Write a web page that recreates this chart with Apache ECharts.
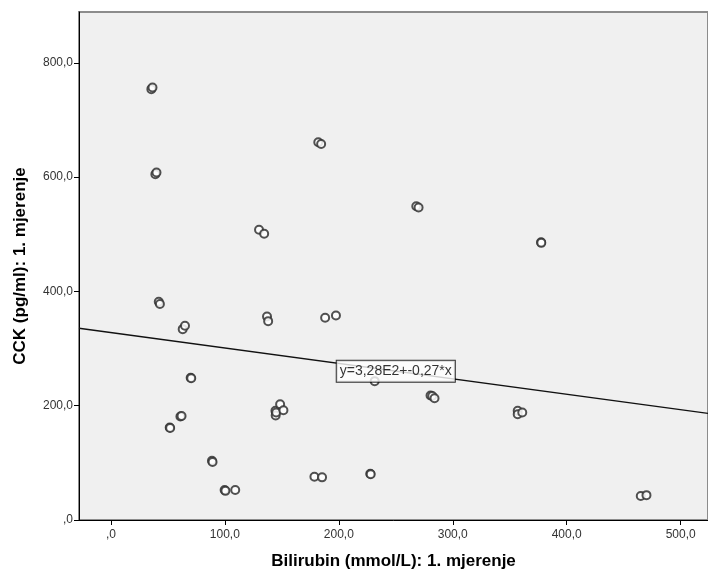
<!DOCTYPE html>
<html>
<head>
<meta charset="utf-8">
<script src="https://cdn.jsdelivr.net/npm/echarts@6/dist/echarts.min.js"></script>
<style>html,body{margin:0;padding:0;background:#fff;}#c{width:708px;height:575px;}</style>
</head>
<body>
<div id="c"></div>
<script>
// Bilirubin (x) values
var bilirubin = [35.5,36.5, 39,40, 42,43, 63,65, 61,62, 51.6,52, 70,70.5, 88.7,89.2, 99.8,100.5,109.1,
  130,134.5, 137,138, 144.4,144.6,145,148.5,151.4, 182,184.5, 188,197.5, 178.6,185.3, 227.6,228,
  231.5, 268,270, 280.5,282,284, 357,357,361, 377.5,377.7, 465,470];
// CCK (y) values
var cck = [754,757, 605,608, 382,378, 334,340, 181,182, 162,161, 249,248, 103.6,101.5, 52.4,51,52.6,
  508,501, 356,348, 191,183,188,202.6,192, 661,658, 354,358, 75.6,74.6, 81,80,
  243, 549,547, 218,217,213, 191,185,188, 486,485, 42,43.5];
var xTicks = [0,100,200,300,400,500];
var yTicks = [0,200,400,600,800];
var regIntercept = 328, regSlope = -0.27;
var regLabel = 'y=3,28E2+-0,27*x';
var xMin = -28, xMax = 524, yMin = 0, yMax = 889;
var labelAtX = 250;

function fmt(v){ if (v === 0) return ',0'; return v.toFixed(1).replace('.', ','); }

var pts = bilirubin.map(function(x,i){ return [x, cck[i]]; });
var reg = [[xMin, regIntercept + regSlope*xMin],[xMax, regIntercept + regSlope*xMax]];

var chart = echarts.init(document.getElementById('c'));
chart.setOption({
  animation: false,
  backgroundColor: '#ffffff',
  grid: {left: 79, top: 12, right: -2, bottom: 54, show: true, backgroundColor: '#F0F0F0', borderColor: '#8c8c8c', borderWidth: 2},
  xAxis: {
    type: 'value', min: xMin, max: xMax,
    name: 'Bilirubin (mmol/L): 1. mjerenje', nameLocation: 'middle', nameGap: 33,
    nameTextStyle: {fontFamily: 'Liberation Sans', fontWeight: 'bold', fontSize: 17, color: '#000'},
    axisLine: {show: true, onZero: false, lineStyle: {color: '#000', width: 1}},
    axisTick: {show: true, length: 5, lineStyle: {color: '#000'}, customValues: xTicks},
    axisLabel: {customValues: xTicks, formatter: fmt, fontFamily: 'Liberation Sans', fontSize: 12, color: '#333', margin: 9},
    splitLine: {show: false}
  },
  yAxis: {
    type: 'value', min: yMin, max: yMax,
    name: 'CCK (pg/ml): 1. mjerenje', nameLocation: 'middle', nameGap: 50, nameRotate: 90,
    nameTextStyle: {fontFamily: 'Liberation Sans', fontWeight: 'bold', fontSize: 17, color: '#000'},
    axisLine: {show: true, onZero: false, lineStyle: {color: '#000', width: 1}},
    axisTick: {show: true, length: 5, lineStyle: {color: '#000'}, customValues: yTicks},
    axisLabel: {customValues: yTicks, formatter: fmt, fontFamily: 'Liberation Sans', fontSize: 12, color: '#333', margin: 6},
    splitLine: {show: false}
  },
  series: [
    {
      type: 'scatter', data: pts, symbol: 'emptyCircle', symbolSize: 8,
      itemStyle: {color: '#333', borderColor: '#333', borderWidth: 1, opacity: 0.85},
      z: 2
    },
    {
      type: 'line', data: reg, symbol: 'none', silent: true,
      lineStyle: {color: '#111', width: 1.3}, z: 3
    },
    {
      type: 'scatter', symbolSize: 0, silent: true, z: 5,
      data: [[labelAtX, regIntercept + regSlope*labelAtX]],
      label: {show: true, position: 'inside', formatter: regLabel, fontFamily: 'Liberation Sans', fontSize: 14, color: '#000',
        backgroundColor: '#fff', borderColor: '#000', borderWidth: 1, padding: [4, 3, 3, 3]}
    }
  ]
});
</script>
</body>
</html>
